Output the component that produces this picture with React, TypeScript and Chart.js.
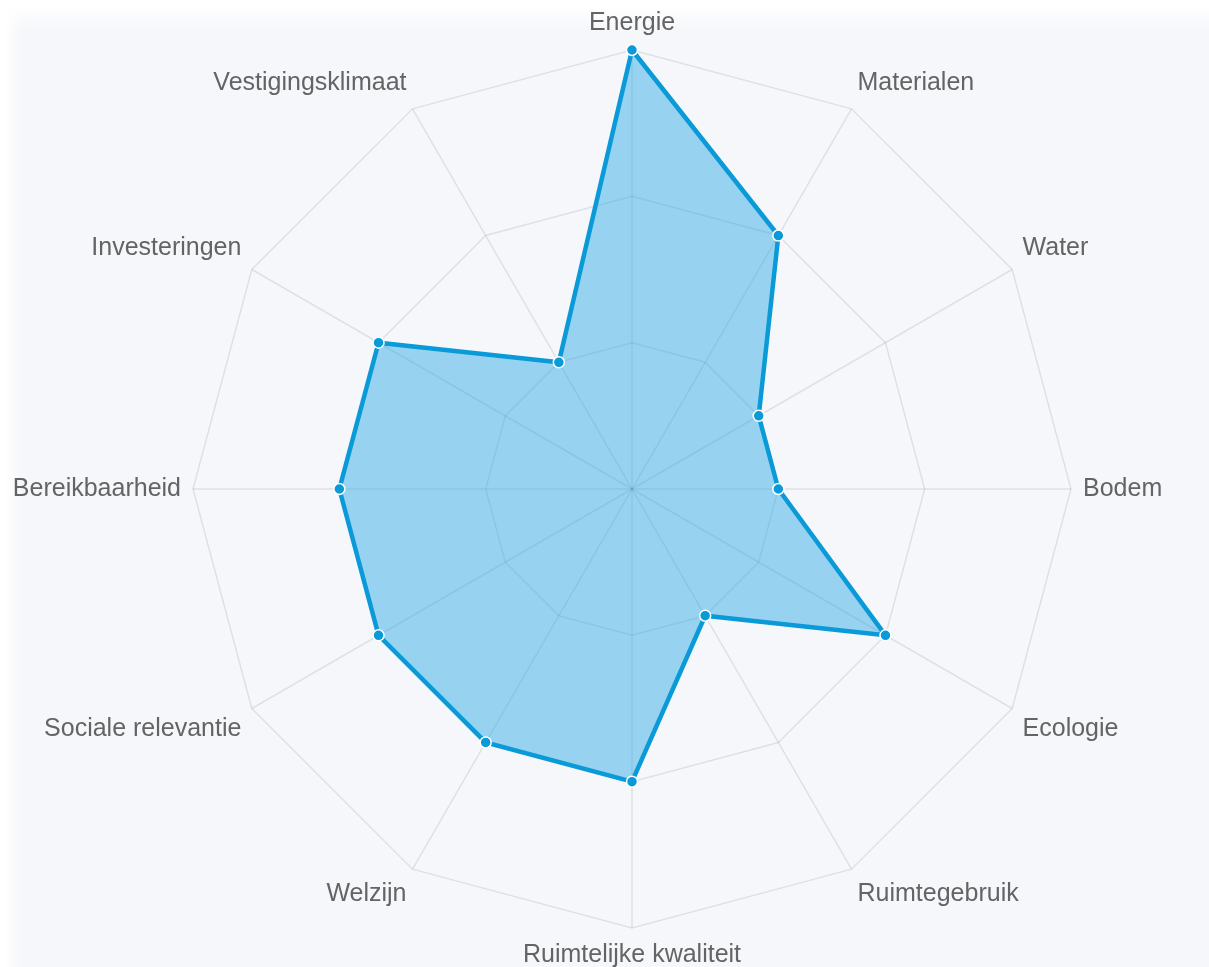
import React, { useEffect, useRef } from "react";
import { Chart, registerables } from "chart.js";

Chart.register(...registerables);

const categories: string[] = [
  "Energie",
  "Materialen",
  "Water",
  "Bodem",
  "Ecologie",
  "Ruimtegebruik",
  "Ruimtelijke kwaliteit",
  "Welzijn",
  "Sociale relevantie",
  "Bereikbaarheid",
  "Investeringen",
  "Vestigingsklimaat",
];

const scores: number[] = [3, 2, 1, 1, 2, 1, 2, 2, 2, 2, 2, 1];

const scaleMax = 3;
const scaleStep = 1;

const CANVAS_W = 1500;
const CANVAS_H = 980;
const CANVAS_LEFT = -100;

export default function App() {
  const canvasRef = useRef<HTMLCanvasElement | null>(null);

  useEffect(() => {
    if (!canvasRef.current) return;
    const chart = new Chart(canvasRef.current, {
      type: "radar",
      data: {
        labels: categories,
        datasets: [
          {
            label: "Score",
            data: scores,
            backgroundColor: "rgba(20, 160, 225, 0.42)",
            borderColor: "#0a9ad8",
            borderWidth: 4.5,
            pointBackgroundColor: "#0a9ad8",
            pointBorderColor: "#ffffff",
            pointBorderWidth: 1.5,
            pointRadius: 5.5,
            fill: true,
          },
        ],
      },
      options: {
        animation: false,
        responsive: false,
        maintainAspectRatio: false,
        layout: { padding: { top: 8, bottom: 10, left: 0, right: 36 } },
        plugins: {
          legend: { display: false },
          tooltip: { enabled: false },
        },
        scales: {
          r: {
            min: 0,
            max: scaleMax,
            ticks: { display: false, stepSize: scaleStep },
            grid: { color: "rgba(0,0,0,0.09)", lineWidth: 1.5 },
            angleLines: { color: "rgba(0,0,0,0.09)", lineWidth: 1.5 },
            pointLabels: {
              color: "#646464",
              padding: 12,
              font: { family: "'Liberation Sans', Arial, sans-serif", size: 25 },
            },
          },
        },
      },
    });
    return () => chart.destroy();
  }, []);

  return (
    <div
      style={{
        position: "fixed",
        left: 0,
        top: 0,
        width: 1209,
        height: 967,
        background: "#f6f7fb",
        overflow: "hidden",
      }}
    >
      <div
        style={{
          position: "absolute",
          left: 0,
          top: 0,
          width: 1209,
          height: 30,
          background: "linear-gradient(to bottom, #ffffff 20%, rgba(246,247,251,0))",
        }}
      />
      <div
        style={{
          position: "absolute",
          left: 0,
          top: 0,
          width: 22,
          height: 967,
          background: "linear-gradient(to right, #ffffff 20%, rgba(246,247,251,0))",
        }}
      />
      <canvas
        ref={canvasRef}
        width={CANVAS_W}
        height={CANVAS_H}
        style={{
          position: "absolute",
          left: CANVAS_LEFT,
          top: 0,
          width: CANVAS_W,
          height: CANVAS_H,
        }}
      />
    </div>
  );
}
